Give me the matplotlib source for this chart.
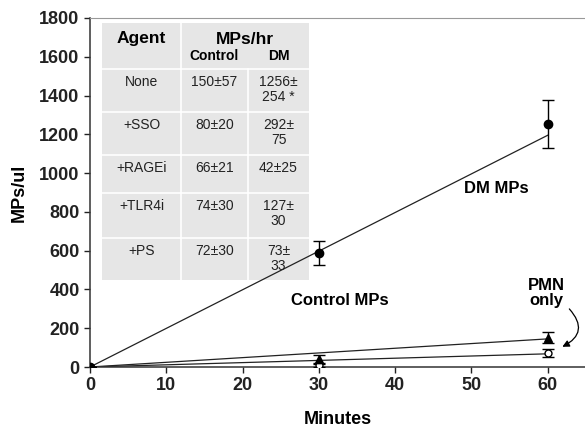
import numpy as np
import matplotlib.pyplot as plt
from matplotlib.patches import Rectangle

plt.rcParams['font.family'] = ['Liberation Sans', 'DejaVu Sans']

# measured points (minutes, MPs/ul)
minutes = [0, 30, 60]
dm_mean = [0, 588, 1253]
dm_err = [0, 60, 125]
ctrl_mean = [0, 41, 151]
ctrl_err = [0, 20, 28]
pmn_mean = [0, 8, 72]
pmn_err = [0, 8, 20]

# trend lines as drawn in the figure
fit_x = [0, 60]
dm_fit = [0, 1195]
ctrl_fit = [0, 145]
pmn_fit = [0, 68]

# inset table
agents = ['None', '+SSO', '+RAGEi', '+TLR4i', '+PS']
control_rates = ['150\u00b157', '80\u00b120', '66\u00b121', '74\u00b130', '72\u00b130']
dm_rates = ['1256\u00b1\n254 *', '292\u00b1\n75', '42\u00b125', '127\u00b1\n30', '73\u00b1\n33']

fig = plt.figure(figsize=(5.85, 4.29), dpi=100)
ax = fig.add_axes([90 / 585, 62 / 429, 495 / 585, 349 / 429])

ax.plot(fit_x, dm_fit, color='#222222', lw=0.9, zorder=2)
ax.plot(fit_x, ctrl_fit, color='#222222', lw=0.9, zorder=2)
ax.plot(fit_x, pmn_fit, color='#222222', lw=0.9, zorder=2)

ax.errorbar(minutes, pmn_mean, yerr=pmn_err, fmt='o', ms=5, mfc='white', mec='black',
            mew=1, ecolor='black', elinewidth=1, capsize=4, zorder=3)
ax.errorbar(minutes, ctrl_mean, yerr=ctrl_err, fmt='^', ms=6, color='black',
            ecolor='black', elinewidth=1, capsize=4, zorder=4)
ax.errorbar(minutes, dm_mean, yerr=dm_err, fmt='o', ms=6, color='black',
            ecolor='black', elinewidth=1, capsize=4, zorder=5)

ax.set_xlim(0, 64.9)
ax.set_ylim(0, 1800)
ax.set_xticks(range(0, 61, 10))
ax.set_yticks(range(0, 1801, 200))
ax.tick_params(direction='out', length=4, width=1, labelsize=13, colors='#222222')
for lab in ax.get_xticklabels() + ax.get_yticklabels():
    lab.set_fontweight('bold')
ax.spines['right'].set_visible(False)
ax.spines['top'].set_color('#999999')
for s in ['left', 'bottom']:
    ax.spines[s].set_color('#333333')
    ax.spines[s].set_linewidth(1.1)
ax.set_xlabel('Minutes', fontsize=13, fontweight='bold', labelpad=12)
ax.set_ylabel('MPs/ul', fontsize=13, fontweight='bold', labelpad=8)

ax.text(53.3, 923, 'DM MPs', fontsize=12, fontweight='bold', ha='center', va='center')
ax.text(32.8, 345, 'Control MPs', fontsize=12, fontweight='bold', ha='center', va='center')
ax.text(59.9, 381, 'PMN\nonly', fontsize=12, fontweight='bold', ha='center', va='center',
        linespacing=1.0)
ax.annotate('', xy=(61.6, 98), xytext=(62.6, 310),
            arrowprops=dict(arrowstyle='-|>', color='black', lw=0.9,
                            connectionstyle='arc3,rad=-0.7', mutation_scale=10))

# table in axes fraction coordinates
tx = [12 / 495, 91 / 495, 158 / 495, 219 / 495]
row_edges = [23, 69, 112, 155, 193, 238, 280]
ty = [(367 - r) / 349 for r in row_edges]
tr = ax.transAxes
ax.add_patch(Rectangle((tx[0], ty[-1]), tx[3] - tx[0], ty[0] - ty[-1], transform=tr,
                       facecolor='#e6e6e6', edgecolor='none', zorder=1))
ax.plot([tx[1], tx[1]], [ty[0], ty[-1]], transform=tr, color='white', lw=1.2, zorder=1.5)
ax.plot([tx[2], tx[2]], [ty[1], ty[-1]], transform=tr, color='white', lw=1.2, zorder=1.5)
for y in ty[1:-1]:
    ax.plot([tx[0], tx[3]], [y, y], transform=tr, color='white', lw=1.2, zorder=1.5)

c0 = (tx[0] + tx[1]) / 2
c1 = (tx[1] + tx[2]) / 2
c2 = (tx[2] + tx[3]) / 2
ax.text(c0, (367 - 39) / 349, 'Agent', transform=tr, ha='center', va='center',
        fontsize=12.5, fontweight='bold', zorder=2)
ax.text((tx[1] + tx[3]) / 2, (367 - 39) / 349, 'MPs/hr', transform=tr, ha='center',
        va='center', fontsize=12.5, fontweight='bold', zorder=2)
ax.text(c1, (367 - 56) / 349, 'Control', transform=tr, ha='center', va='center',
        fontsize=10, fontweight='bold', zorder=2)
ax.text(c2, (367 - 56) / 349, 'DM', transform=tr, ha='center', va='center',
        fontsize=10, fontweight='bold', zorder=2)
for i, (a, c, d) in enumerate(zip(agents, control_rates, dm_rates)):
    ytop = (367 - row_edges[i + 1] - 6) / 349
    for cx, s in [(c0, a), (c1, c), (c2, d)]:
        ax.text(cx, ytop, s, transform=tr, ha='center', va='top', fontsize=10,
                color='#222222', linespacing=1.05, zorder=2)

fig.savefig('out.png', dpi=100)
